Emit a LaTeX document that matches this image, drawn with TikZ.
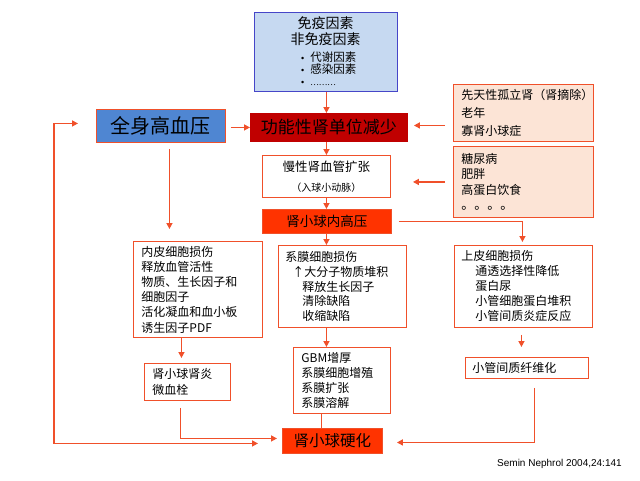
\documentclass[tikz,border=0pt]{standalone}
\usepackage{fontspec}
\setmainfont{Noto Sans CJK SC}
\newfontfamily\citefont{Liberation Sans}
\usetikzlibrary{arrows.meta,calc}
\definecolor{ored}{HTML}{F0502A}
\definecolor{peach}{HTML}{FCE4D6}
\definecolor{lblue}{HTML}{C6D9F1}
\definecolor{bblue}{HTML}{4646C8}
\definecolor{mblue}{HTML}{4F86D2}
\definecolor{dred}{HTML}{C00000}
\definecolor{bred}{HTML}{FF3300}
\tikzset{
  tip/.style={},
  conn/.style={draw=ored, line width=1.4pt, -{Triangle[length=6pt,width=6pt]}},
  plainconn/.style={draw=ored, line width=1.4pt},
  wbox/.style={draw=ored, line width=0.9pt, fill=white, anchor=north west, align=left, inner ysep=0pt},
  pbox/.style={wbox, fill=peach},
  cbox/.style={draw=ored, line width=0.9pt, anchor=north west, align=center, inner sep=0pt, text=black},
  f12/.style={font=\fontsize{12}{15.2}\selectfont},
}
\begin{document}
\begin{tikzpicture}[x=1pt,y=-1pt]
\useasboundingbox (0,0) rectangle (640,480);
% top box
\node[draw=bblue, line width=0.9pt, fill=lblue, anchor=north west, minimum width=143pt, minimum height=79pt, inner sep=0pt] (top) at (254,12) {};
\node[font=\fontsize{14}{16}\selectfont, inner sep=0pt] (t1) at (325.5,23) {免疫因素};
\node[font=\fontsize{14}{16}\selectfont, inner sep=0pt] (t2) at (325.5,39.5) {非免疫因素};
\node[font=\fontsize{11.5}{12}\selectfont, inner sep=0pt, anchor=west, align=left] (t3) at (301,69) {{\citefont\fontsize{9}{12}\selectfont •}\hspace*{6pt}代谢因素\\{\citefont\fontsize{9}{12}\selectfont •}\hspace*{6pt}感染因素\\{\citefont\fontsize{9}{12}\selectfont •}\hspace*{6pt}{\fontsize{8}{12}\selectfont ………}};
% main row
\node[cbox, fill=mblue, minimum width=129pt, minimum height=33pt, font=\fontsize{20}{22}\selectfont] (qs) at (96,109) {全身高血压};
\node[cbox, draw=dred, fill=dred, minimum width=157pt, minimum height=28pt, font=\fontsize{17}{19}\selectfont] (func) at (250,113) {功能性肾单位减少};
\node[pbox, minimum height=57pt, inner xsep=8pt, text width=124pt, font=\fontsize{12}{18}\selectfont] (rb1) at (453,84) {先天性孤立肾（肾摘除）\\老年\\寡肾小球症};
\node[pbox, minimum height=71pt, inner xsep=8pt, text width=124pt, font=\fontsize{12}{15.5}\selectfont] (rb2) at (453,146) {糖尿病\\肥胖\\高蛋白饮食\\{\fontsize{13}{15.5}\selectfont 。。。。}};
\node[cbox, fill=white, minimum width=128pt, minimum height=42pt, font=\fontsize{12.5}{20}\selectfont] (cv) at (262,155) {慢性肾血管扩张\\{\fontsize{10}{20}\selectfont（入球小动脉）}};
\node[cbox, fill=bred, minimum width=129pt, minimum height=24pt, font=\fontsize{13.5}{15}\selectfont] (hp) at (262,209) {肾小球内高压};
% third row
\node[wbox, minimum height=96pt, inner xsep=8pt, text width=113pt, f12] (en) at (133,241) {内皮细胞损伤\\释放血管活性\\物质、生长因子和\\细胞因子\\活化凝血和血小板\\诱生因子PDF};
\node[wbox, minimum height=82pt, inner xsep=7pt, text width=114pt, font=\fontsize{12}{14.8}\selectfont] (me) at (278,245) {系膜细胞损伤\\\hspace*{7pt}↑大分子物质堆积\\\hspace*{17pt}释放生长因子\\\hspace*{17pt}清除缺陷\\\hspace*{17pt}收缩缺陷};
\node[wbox, minimum height=82pt, inner xsep=7pt, text width=124pt, font=\fontsize{12}{15}\selectfont] (ep) at (454,245) {上皮细胞损伤\\\hspace*{14pt}通透选择性降低\\\hspace*{14pt}蛋白尿\\\hspace*{14pt}小管细胞蛋白堆积\\\hspace*{14pt}小管间质炎症反应};
\node[wbox, minimum height=21pt, inner xsep=7pt, text width=109pt, f12] (fib) at (465,357) {小管间质纤维化};
% fourth row
\node[wbox, minimum height=66pt, inner xsep=8pt, text width=81pt, font=\fontsize{12}{14.7}\selectfont] (gbm) at (293,347) {GBM增厚\\系膜细胞增殖\\系膜扩张\\系膜溶解};
\node[wbox, minimum height=37pt, inner xsep=8pt, text width=70pt, font=\fontsize{12}{16}\selectfont] (gn) at (144,363) {肾小球肾炎\\微血栓};
\node[cbox, fill=bred, minimum width=100pt, minimum height=25pt, font=\fontsize{15.5}{17}\selectfont] (scl) at (282,428) {肾小球硬化};
\node[anchor=west, inner sep=0pt, font=\citefont\fontsize{10}{12}\selectfont] (cite) at (497,464) {Semin Nephrol 2004,24:141};
% connectors
\draw[conn] (top.south -| cv.north) -- (func.north -| cv.north);
\draw[conn] ($(func.west -| qs.east)+(5,0)$) -- (func.west);
\draw[conn] ($(rb1.west |- func.east)+(-8,-2)$) -- ($(func.east)+(6,-2)$);
\draw[conn] (func.south -| cv.north) -- (cv.north);
\draw[conn] ($(rb2.west)+(-8,0)$) -- ($(rb2.west -| cv.east)+(22,0)$);
\draw[conn] (cv.south) -- (cv.south |- hp.north);
\draw[conn] ($(hp.east)+(7,0)$) -| ($(ep.north)+(-1,-3)$);
\draw[conn] ($(qs.south)+(8.5,6)$) -- ($(en.north -| qs.south)+(8.5,-12)$);
\draw[conn] (hp.south -| cv.south) -- (me.north -| cv.south);
\draw[conn] ($(ep.south)+(-2,7)$) -- ($(ep.south |- fib.north)+(-2,-10)$);
\draw[conn] ($(fib.south)+(7.5,9)$) |- ($(scl.east)+(14,1.5)$);
\draw[conn] ($(en.south)+(-16.5,0)$) -- ($(en.south |- gn.north)+(-16.5,-5)$);
\draw[conn] ($(gn.south)+(-7,7)$) |- ($(scl.west)+(-5,-2.5)$);
\draw[conn] (me.south -| cv.south) -- (gbm.north -| cv.south);
\draw[plainconn] ($(gbm.south -| scl.north)+(-11,0)$) -- ($(scl.north)+(-11,0)$);
\draw[conn, {Triangle[length=6pt,width=6pt]}-{Triangle[length=6pt,width=6pt]}] ($(scl.west)+(-24,2.5)$) -| ($(qs.west)+(-42,-2.5)$) -- ($(qs.west)+(-18,-2.5)$);
\end{tikzpicture}
\end{document}
